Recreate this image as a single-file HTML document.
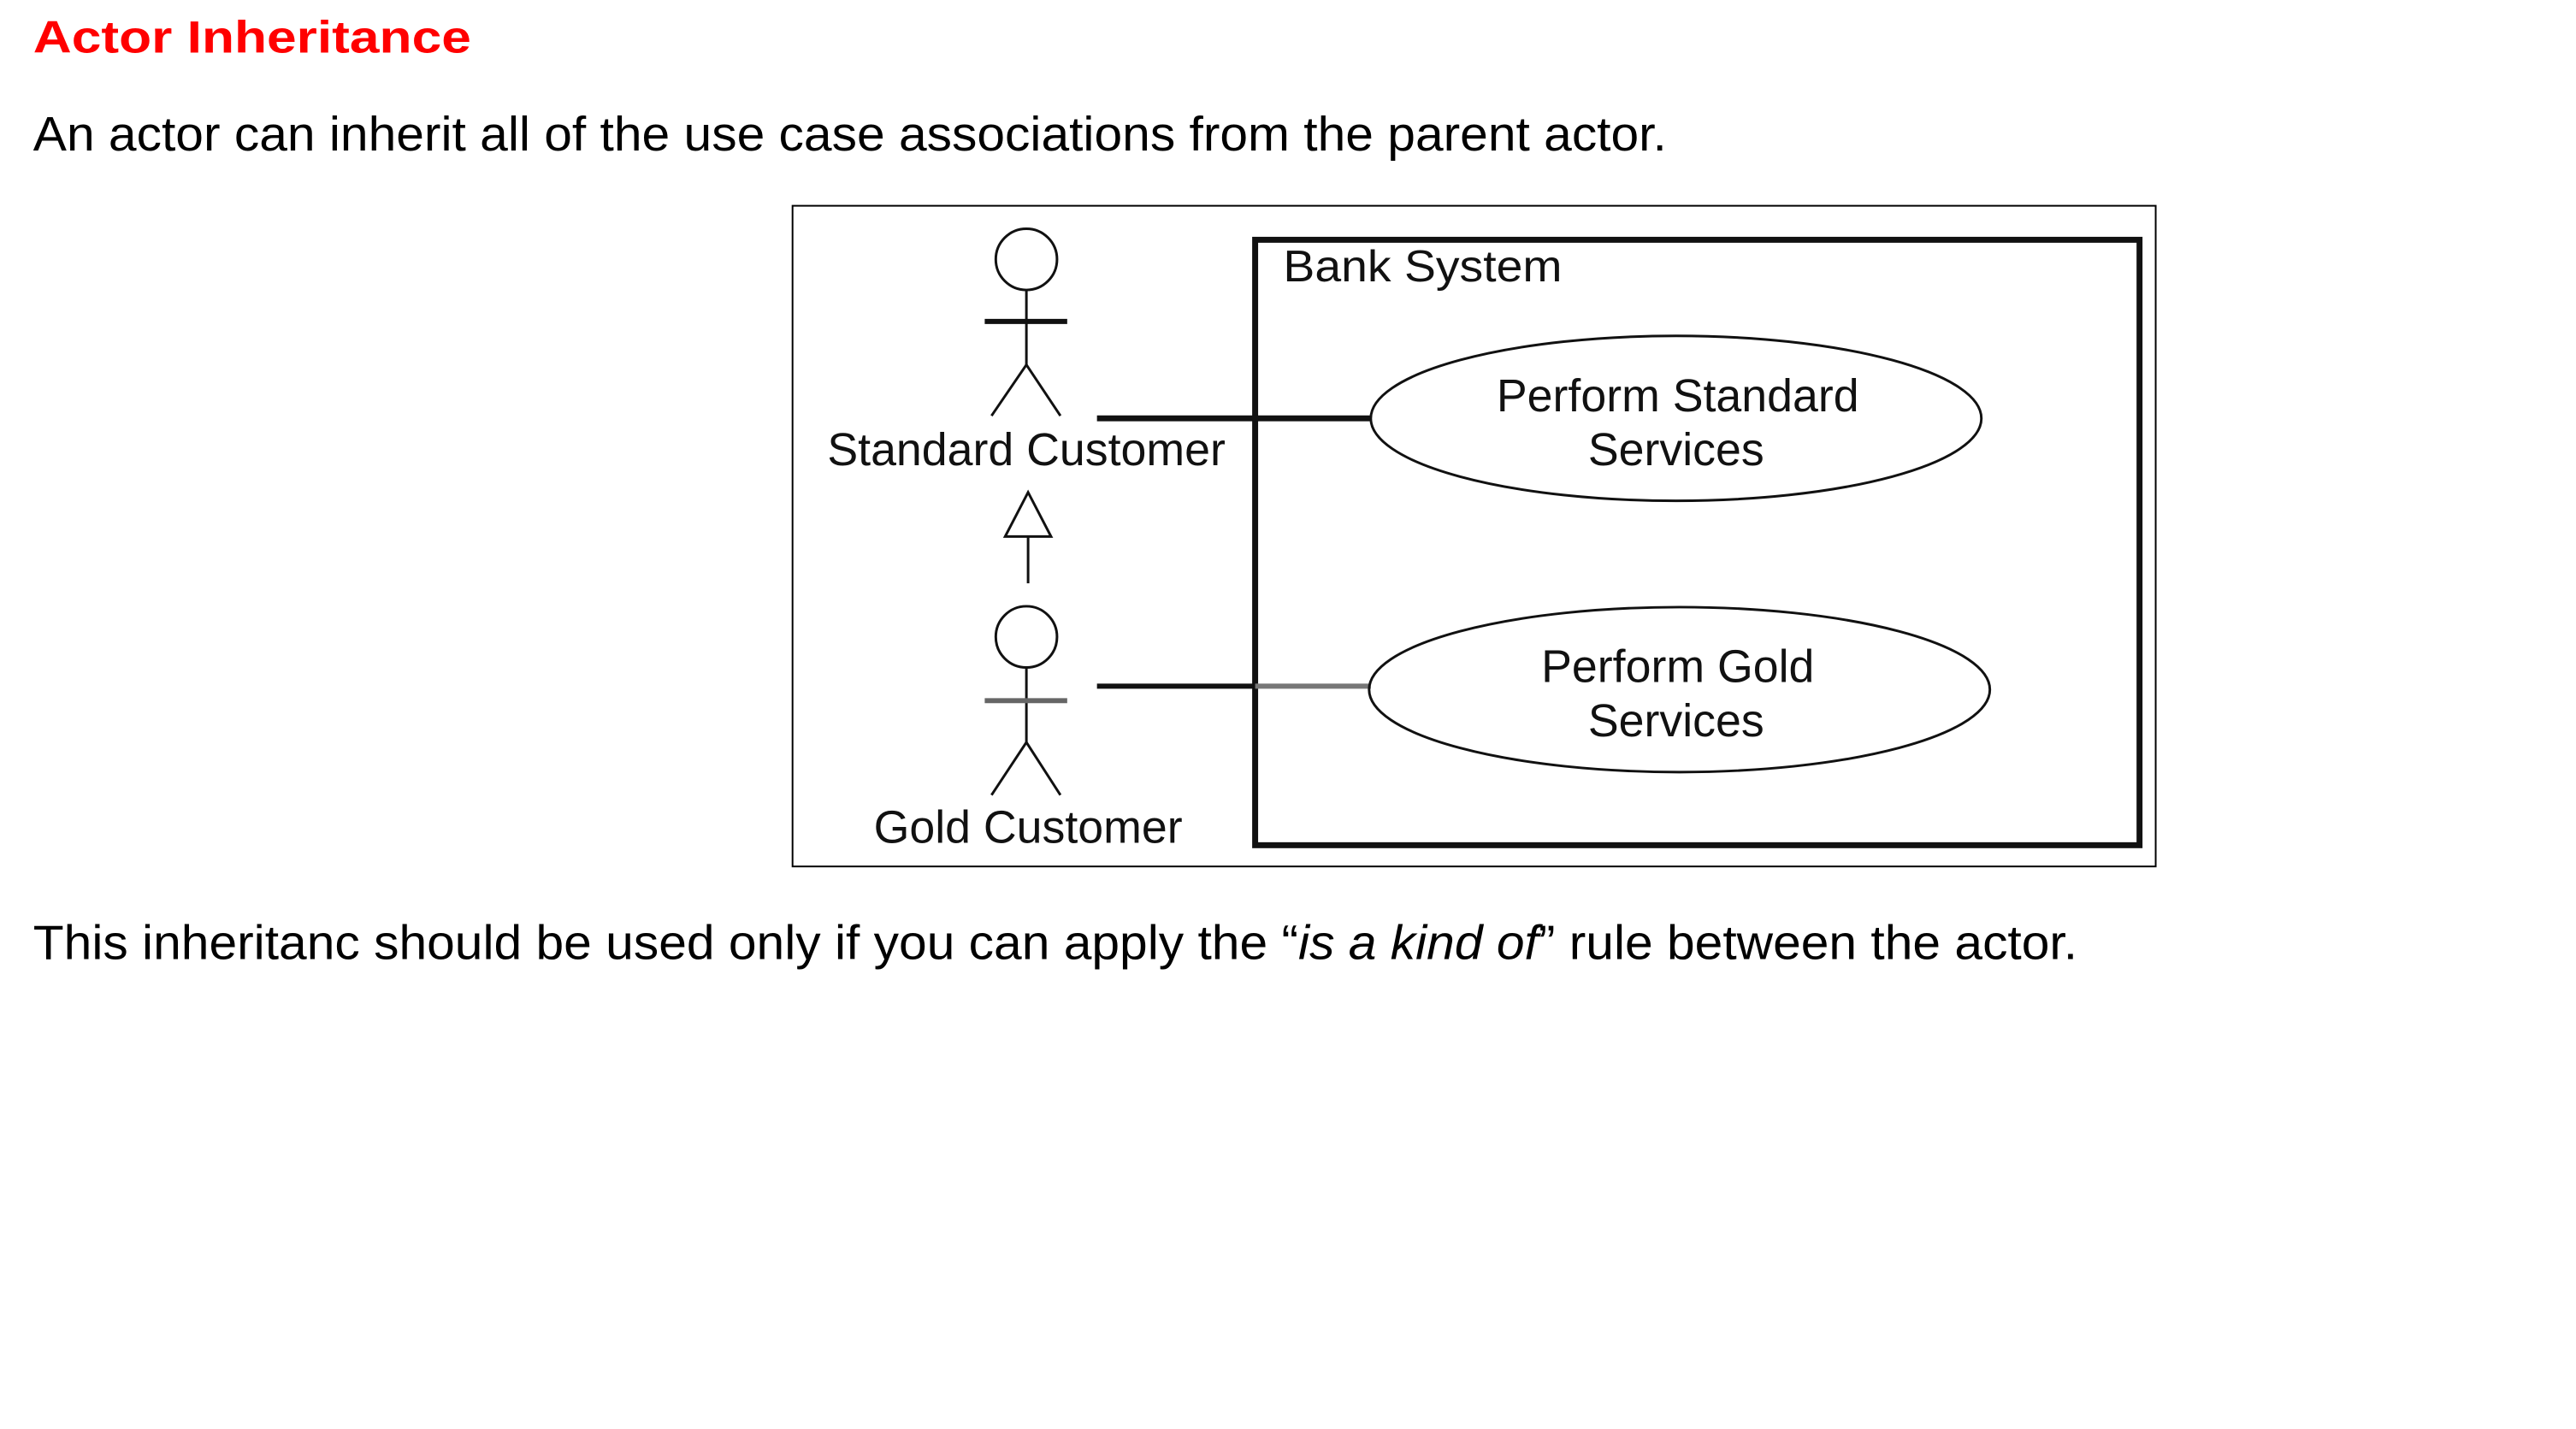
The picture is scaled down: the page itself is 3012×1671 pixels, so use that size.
<!DOCTYPE html>
<html><head><meta charset="utf-8"><style>
html,body{margin:0;padding:0;background:#fff;}
svg{display:block;font-family:"Liberation Sans",Arial,sans-serif;}
</style></head><body>
<svg width="3012" height="1671" viewBox="0 0 3012 1671" xmlns="http://www.w3.org/2000/svg">
<rect width="3012" height="1671" fill="#fff"/>
<g transform="scale(0.9943)">
<text x="39" y="62" font-size="53" font-weight="bold" fill="#ff0000" textLength="515" lengthAdjust="spacingAndGlyphs">Actor Inheritance</text>
<text x="39" y="177" font-size="57" fill="#000" textLength="1921" lengthAdjust="spacingAndGlyphs">An actor can inherit all of the use case associations from the parent actor.</text>
<text x="39" y="1128" font-size="57" fill="#000" textLength="2404" lengthAdjust="spacingAndGlyphs">This inheritanc should be used only if you can apply the “<tspan font-style="italic">is a kind of</tspan>” rule between the actor.</text>

<rect x="932" y="242" width="1603" height="777" fill="none" stroke="#000" stroke-width="2"/>
<rect x="1476" y="282" width="1040" height="712" fill="none" stroke="#111" stroke-width="7"/>
<text x="1509" y="331" font-size="52" fill="#111" textLength="328" lengthAdjust="spacingAndGlyphs">Bank System</text>

<g stroke="#111" fill="none" stroke-width="3">
<ellipse cx="1207" cy="305" rx="36" ry="36"/>
<line x1="1207" y1="341" x2="1207" y2="429"/>
<line x1="1158" y1="378" x2="1255" y2="378" stroke-width="6"/>
<polyline points="1166,489 1207,429 1247,489"/>
<ellipse cx="1207" cy="749" rx="36" ry="36"/>
<line x1="1207" y1="785" x2="1207" y2="873"/>
<line x1="1158" y1="824" x2="1255" y2="824" stroke-width="6" stroke="#666"/>
<polyline points="1166,935 1207,873 1247,935"/>
<polygon points="1209,579 1182,631 1236,631"/>
<line x1="1209" y1="631" x2="1209" y2="686"/>
<line x1="1290" y1="492" x2="1612" y2="492" stroke-width="7"/>
<line x1="1290" y1="807" x2="1476" y2="807" stroke-width="6"/>
<line x1="1476" y1="807" x2="1612" y2="807" stroke-width="6" stroke="#777"/>
<ellipse cx="1971" cy="492" rx="359" ry="97"/>
<ellipse cx="1975" cy="811" rx="365" ry="97"/>
</g>

<g font-size="54" fill="#111" text-anchor="middle">
<text x="1207" y="547">Standard Customer</text>
<text x="1209" y="991">Gold Customer</text>
<text x="1973" y="484">Perform Standard</text>
<text x="1971" y="547">Services</text>
<text x="1973" y="802">Perform Gold</text>
<text x="1971" y="866">Services</text>
</g>
</g>
</svg>
</body></html>
